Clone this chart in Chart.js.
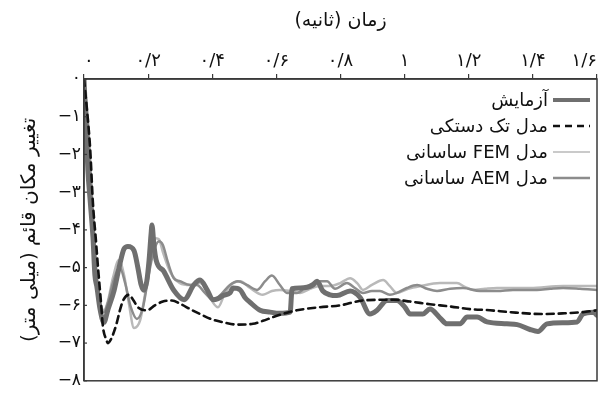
<!DOCTYPE html>
<html>
<head>
<meta charset="utf-8">
<script src="https://cdn.jsdelivr.net/npm/chart.js@4"></script>
<style>
  html, body { margin: 0; padding: 0; background: #fff; }
  #c { display: block; }
</style>
</head>
<body>
<canvas id="c" width="605" height="394"></canvas>
<script>
// Series labels (legend order)
const seriesNames = ['آزمایش', 'مدل تک دستکی', 'مدل FEM ساسانی', 'مدل AEM ساسانی'];

// Measured response
const expTime = [0,0.006,0.012,0.020,0.028,0.034,0.040,0.050,0.062,0.075,0.094,0.112,0.125,0.137,0.156,0.168,0.178,0.187,0.196,0.203,0.209,0.212,0.218,0.225,0.249,0.280,0.312,0.343,0.362,0.384,0.402,0.418,0.434,0.455,0.465,0.487,0.502,0.518,0.549,0.580,0.611,0.643,0.649,0.674,0.714,0.727,0.745,0.767,0.789,0.830,0.861,0.892,0.914,0.945,0.976,1.001,1.017,1.057,1.079,1.110,1.132,1.173,1.195,1.226,1.257,1.319,1.351,1.391,1.416,1.444,1.494,1.538,1.556,1.588,1.600];
const expDisp = [0,-1.20,-2.40,-3.30,-4.20,-5.20,-5.50,-6.10,-6.45,-6.10,-5.60,-4.90,-4.50,-4.44,-4.55,-5.00,-5.45,-5.60,-5.35,-4.80,-4.13,-3.87,-4.40,-4.80,-5.10,-5.60,-5.85,-5.45,-5.33,-5.59,-5.85,-5.82,-5.74,-5.67,-5.54,-5.59,-5.79,-5.92,-6.13,-6.18,-6.21,-6.18,-5.56,-5.54,-5.46,-5.36,-5.62,-5.72,-5.74,-5.62,-5.79,-6.23,-6.13,-5.87,-5.87,-6.05,-6.23,-6.23,-6.10,-6.33,-6.49,-6.49,-6.31,-6.31,-6.44,-6.49,-6.51,-6.64,-6.69,-6.49,-6.46,-6.44,-6.23,-6.18,-6.26];

// Single-degree-of-freedom model
const sdofTime = [0,0.009,0.019,0.028,0.037,0.044,0.053,0.059,0.069,0.075,0.084,0.094,0.103,0.112,0.122,0.140,0.153,0.168,0.197,0.221,0.246,0.274,0.303,0.331,0.362,0.402,0.440,0.477,0.527,0.558,0.590,0.627,0.664,0.736,0.799,0.870,0.964,1.017,1.079,1.142,1.204,1.266,1.329,1.432,1.500,1.556,1.600];
const sdofDisp = [0,-0.79,-1.82,-3.31,-4.26,-5.03,-5.92,-6.56,-6.90,-7.00,-6.90,-6.69,-6.44,-6.13,-5.87,-5.72,-5.85,-6.05,-6.13,-6.00,-5.90,-5.87,-5.97,-6.10,-6.23,-6.38,-6.46,-6.51,-6.49,-6.41,-6.31,-6.21,-6.13,-6.05,-6.00,-5.87,-5.85,-5.90,-5.97,-6.03,-6.10,-6.13,-6.18,-6.23,-6.21,-6.18,-6.13];

// FEM model
const femTime = [0,0.012,0.025,0.037,0.050,0.062,0.075,0.090,0.109,0.125,0.140,0.156,0.175,0.190,0.206,0.224,0.234,0.246,0.268,0.299,0.331,0.362,0.384,0.402,0.418,0.440,0.465,0.487,0.518,0.558,0.586,0.611,0.643,0.674,0.705,0.736,0.767,0.799,0.830,0.852,0.870,0.898,0.933,0.954,0.976,1.011,1.048,1.110,1.163,1.188,1.213,1.251,1.288,1.391,1.494,1.600];
const femDisp = [0,-1.05,-3.10,-4.85,-5.87,-6.13,-5.87,-5.28,-4.80,-5.20,-5.95,-6.60,-6.40,-5.72,-4.82,-4.22,-4.25,-4.59,-5.10,-5.41,-5.46,-5.41,-5.59,-5.92,-6.05,-5.67,-5.41,-5.36,-5.54,-5.72,-5.62,-5.59,-5.62,-5.67,-5.56,-5.49,-5.49,-5.41,-5.28,-5.41,-5.59,-5.46,-5.33,-5.49,-5.67,-5.56,-5.49,-5.41,-5.41,-5.51,-5.59,-5.56,-5.54,-5.54,-5.49,-5.49];

// AEM model
const aemTime = [0,0.012,0.025,0.037,0.050,0.062,0.075,0.090,0.112,0.128,0.146,0.165,0.184,0.200,0.215,0.234,0.246,0.262,0.280,0.299,0.331,0.352,0.377,0.402,0.424,0.455,0.480,0.508,0.540,0.565,0.586,0.611,0.633,0.664,0.689,0.714,0.736,0.758,0.783,0.820,0.845,0.870,0.898,0.923,0.954,0.976,1.007,1.039,1.070,1.101,1.142,1.182,1.235,1.288,1.338,1.413,1.454,1.494,1.547,1.600];
const aemDisp = [0,-1.18,-3.23,-5.03,-5.97,-6.18,-5.92,-5.41,-5.00,-5.40,-6.05,-6.36,-6.05,-5.28,-4.64,-4.30,-4.40,-4.87,-5.28,-5.36,-5.46,-5.46,-5.67,-5.85,-5.74,-5.46,-5.36,-5.46,-5.59,-5.36,-5.21,-5.46,-5.67,-5.67,-5.54,-5.41,-5.36,-5.36,-5.56,-5.41,-5.54,-5.67,-5.62,-5.62,-5.72,-5.67,-5.54,-5.46,-5.56,-5.62,-5.56,-5.54,-5.62,-5.62,-5.59,-5.59,-5.56,-5.54,-5.56,-5.59];

// Axis tick values
const timeTicks = [0, 0.2, 0.4, 0.6, 0.8, 1, 1.2, 1.4, 1.6];
const dispTicks = [0, -1, -2, -3, -4, -5, -6, -7, -8];

const FA_DIGITS = '۰۱۲۳۴۵۶۷۸۹';
function toFa(v) {
  const r = Math.round(v * 10) / 10;
  return String(r).replace(/\d/g, d => FA_DIGITS[d]).replace('.', '/');
}
function pairs(xs, ys) { return xs.map((x, i) => ({ x, y: ys[i] })); }

const FONT = '"DejaVu Sans", sans-serif';

// Frame around the plot area plus inward ticks on the displacement axis
const framePlugin = {
  id: 'frame',
  afterDraw(chart) {
    const { ctx, chartArea: a, scales } = chart;
    ctx.save();
    ctx.strokeStyle = '#3a3a3a';
    ctx.lineWidth = 1.5;
    ctx.strokeRect(a.left, a.top, a.right - a.left, a.bottom - a.top);
    ctx.lineWidth = 1.2;
    dispTicks.forEach(v => {
      const y = scales.y.getPixelForValue(v);
      ctx.beginPath();
      ctx.moveTo(a.left, y);
      ctx.lineTo(a.left + 3, y);
      ctx.stroke();
    });
    ctx.restore();
  }
};

// Right-to-left legend inside the upper right corner
const legendPlugin = {
  id: 'insideLegend',
  afterDraw(chart) {
    const { ctx, chartArea: a } = chart;
    const ds = chart.data.datasets;
    ctx.save();
    ctx.font = '18px ' + FONT;
    ctx.fillStyle = '#111';
    ctx.direction = 'rtl';
    ctx.textAlign = 'right';
    ctx.textBaseline = 'middle';
    ds.forEach((d, i) => {
      const y = a.top + 21 + i * 26;
      const x1 = a.right - 44, x2 = a.right - 7;
      ctx.save();
      ctx.strokeStyle = d.borderColor;
      ctx.lineWidth = d.legendWidth;
      ctx.setLineDash(d.borderDash || []);
      ctx.beginPath();
      ctx.moveTo(x1, y);
      ctx.lineTo(x2, y);
      ctx.stroke();
      ctx.restore();
      ctx.fillText(d.label, a.right - 49, y + 1);
    });
    ctx.restore();
  }
};

new Chart(document.getElementById('c'), {
  type: 'line',
  data: {
    datasets: [
      { label: seriesNames[0], data: pairs(expTime, expDisp), borderColor: '#6f6f6f', borderWidth: 5, legendWidth: 4, order: 1 },
      { label: seriesNames[1], data: pairs(sdofTime, sdofDisp), borderColor: '#111', borderWidth: 2.6, borderDash: [7, 5], legendWidth: 2.5, order: 0 },
      { label: seriesNames[2], data: pairs(femTime, femDisp), borderColor: '#b9b9b9', borderWidth: 2.5, legendWidth: 1.5, order: 3 },
      { label: seriesNames[3], data: pairs(aemTime, aemDisp), borderColor: '#8c8c8c', borderWidth: 2.5, legendWidth: 2.5, order: 2 }
    ]
  },
  options: {
    responsive: false,
    animation: false,
    devicePixelRatio: 1,
    layout: { padding: { left: 0, right: 8, top: 0, bottom: 3 } },
    elements: {
      point: { radius: 0, hoverRadius: 0 },
      line: { cubicInterpolationMode: 'monotone', fill: false, borderCapStyle: 'round', borderJoinStyle: 'round' }
    },
    plugins: {
      legend: { display: false },
      tooltip: { enabled: false }
    },
    scales: {
      x: {
        type: 'linear',
        position: 'top',
        min: 0,
        max: 1.6,
        afterBuildTicks: s => { s.ticks = timeTicks.map(v => ({ value: v })); },
        afterFit: s => { s.height = 79; s.paddingLeft = 0; s.paddingRight = 0; },
        ticks: { font: { family: FONT, size: 18 }, color: '#111', padding: 2, align: 'inner', maxRotation: 0, autoSkip: false, callback: v => toFa(v) },
        grid: { drawOnChartArea: false, tickLength: 5, color: '#3a3a3a', lineWidth: 1.2 },
        border: { color: '#3a3a3a', width: 1.5 },
        title: { display: true, text: 'زمان (ثانیه)', font: { family: FONT, size: 19 }, color: '#111', padding: { top: 10, bottom: 4 } }
      },
      y: {
        type: 'linear',
        min: -8,
        max: 0,
        afterBuildTicks: s => { s.ticks = dispTicks.map(v => ({ value: v })); },
        afterFit: s => { s.width = 84; },
        ticks: { font: { family: FONT, size: 17 }, color: '#111', padding: 3, callback: v => (v < 0 ? '−' : '') + toFa(Math.abs(v)) },
        grid: { drawOnChartArea: false, drawTicks: false },
        border: { color: '#3a3a3a', width: 1.5 },
        title: { display: true, text: 'تغییر مکان قائم (میلی متر)', font: { family: FONT, size: 20 }, color: '#111', padding: { top: 18, bottom: 0 } }
      }
    }
  },
  plugins: [framePlugin, legendPlugin]
});
</script>
</body>
</html>
